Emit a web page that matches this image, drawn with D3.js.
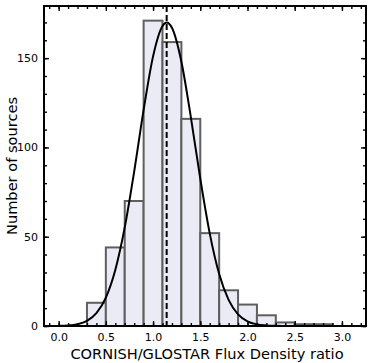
<!DOCTYPE html>
<html>
<head>
<meta charset="utf-8">
<script src="https://cdn.jsdelivr.net/npm/d3@7"></script>
<style>
  body { margin: 0; background: #fff; }
  svg { display: block; font-family: "DejaVu Sans", sans-serif; }
</style>
</head>
<body>
<svg width="374" height="363"></svg>
<script>
// histogram bins (lower edges, width 0.2) and counts
var binEdges = [0.1, 0.3, 0.5, 0.7, 0.9, 1.1, 1.3, 1.5, 1.7, 1.9, 2.1, 2.3, 2.5, 2.7, 2.9, 3.1]
var counts = [0, 13, 44, 70, 171, 159, 116, 52, 20, 12, 6, 2, 1, 1, 0]

// gaussian fit curve
var fitX = [0.0, 0.1, 0.2, 0.3, 0.4, 0.5, 0.6, 0.7, 0.8, 0.9, 1.0, 1.1, 1.144, 1.2, 1.3, 1.4, 1.5, 1.6, 1.7, 1.8, 1.9, 2.0, 2.1, 2.2, 2.3, 2.4, 2.6, 2.8, 3.0, 3.1]
var fitY = [0.1, 0.3, 1.0, 2.9, 7.2, 15.9, 31.4, 55.2, 86.5, 121, 151, 168, 170, 167, 148, 117, 82.5, 51.9, 29.1, 14.6, 6.5, 2.6, 0.9, 0.3, 0.1, 0, 0, 0, 0, 0]
var peakX = 1.144

var xTicks = [0.0, 0.5, 1.0, 1.5, 2.0, 2.5, 3.0]
var yTicks = [0, 50, 100, 150]

var svg = d3.select("svg"),
    margin = {top: 6, right: 8, bottom: 37, left: 44},
    width = +svg.attr("width") - margin.left - margin.right,
    height = +svg.attr("height") - margin.top - margin.bottom,
    g = svg.append("g").attr("transform", "translate(" + margin.left + "," + margin.top + ")");

var x = d3.scaleLinear().domain([-0.155, 3.255]).range([0, width])
var y = d3.scaleLinear().domain([0, 179.2]).range([height, 0])

svg.append("clipPath").attr("id", "clip")
  .append("rect").attr("width", width).attr("height", height)

var plot = g.append("g").attr("clip-path", "url(#clip)")

var bins = counts.map(function(c, i) { return {x0: binEdges[i], x1: binEdges[i + 1], n: c} })

plot.selectAll("rect.bar")
  .data(bins.filter(function(d) { return d.n > 0 }))
  .enter().append("rect")
    .attr("class", "bar")
    .attr("x", function(d) { return x(d.x0) })
    .attr("y", function(d) { return y(d.n) })
    .attr("width", function(d) { return x(d.x1) - x(d.x0) })
    .attr("height", function(d) { return y(0) - y(d.n) })
    .attr("fill", "#ebebf6")
    .attr("stroke", "#5f5f5f")
    .attr("stroke-width", 2)

var line = d3.line()
    .x(function(d) { return x(d[0]) })
    .y(function(d) { return y(d[1]) })
    .curve(d3.curveMonotoneX)

plot.append("path")
  .datum(d3.zip(fitX, fitY))
  .attr("d", line)
  .attr("fill", "none")
  .attr("stroke", "#000")
  .attr("stroke-width", 2)

plot.append("line")
  .attr("x1", x(peakX)).attr("x2", x(peakX))
  .attr("y1", 0).attr("y2", height)
  .attr("stroke", "#000")
  .attr("stroke-width", 2)
  .attr("stroke-dasharray", "6,3")

// ticks, pointing in on every side
var xMinor = d3.range(-1, 33).map(function(i) { return i / 10 }).filter(function(v) { return x(v) >= 0 && x(v) <= width })
var yMinor = d3.range(0, 180, 10)

var fmt = d3.format(".1f")

g.append("g").attr("transform", "translate(0," + height + ")")
  .call(d3.axisBottom(x).tickValues(xTicks).tickFormat(fmt).tickSize(-5).tickPadding(7))
g.append("g").attr("transform", "translate(0," + height + ")")
  .call(d3.axisBottom(x).tickValues(xMinor).tickFormat("").tickSize(-3))
g.append("g")
  .call(d3.axisTop(x).tickValues(xTicks).tickFormat("").tickSize(-5))
g.append("g")
  .call(d3.axisTop(x).tickValues(xMinor).tickFormat("").tickSize(-3))

g.append("g")
  .call(d3.axisLeft(y).tickValues(yTicks).tickSize(-5).tickPadding(6))
g.append("g")
  .call(d3.axisLeft(y).tickValues(yMinor).tickFormat("").tickSize(-3))
g.append("g").attr("transform", "translate(" + width + ",0)")
  .call(d3.axisRight(y).tickValues(yTicks).tickFormat("").tickSize(-5))
g.append("g").attr("transform", "translate(" + width + ",0)")
  .call(d3.axisRight(y).tickValues(yMinor).tickFormat("").tickSize(-3))

g.selectAll(".domain").remove()
g.selectAll(".tick line").attr("stroke", "#000").attr("stroke-width", 1.4)
g.selectAll(".tick text").attr("fill", "#000").style("font-size", "11px").style("font-family", "DejaVu Sans")

g.append("rect")
  .attr("width", width).attr("height", height)
  .attr("fill", "none").attr("stroke", "#000").attr("stroke-width", 2)

svg.append("text")
  .attr("x", margin.left + width / 2 + 2).attr("y", 359)
  .attr("text-anchor", "middle")
  .style("font-size", "14.6px")
  .text("CORNISH/GLOSTAR Flux Density ratio")

svg.append("text")
  .attr("transform", "translate(17," + (margin.top + height / 2) + ") rotate(-90)")
  .attr("text-anchor", "middle")
  .style("font-size", "14.6px")
  .text("Number of sources")
</script>
</body>
</html>
